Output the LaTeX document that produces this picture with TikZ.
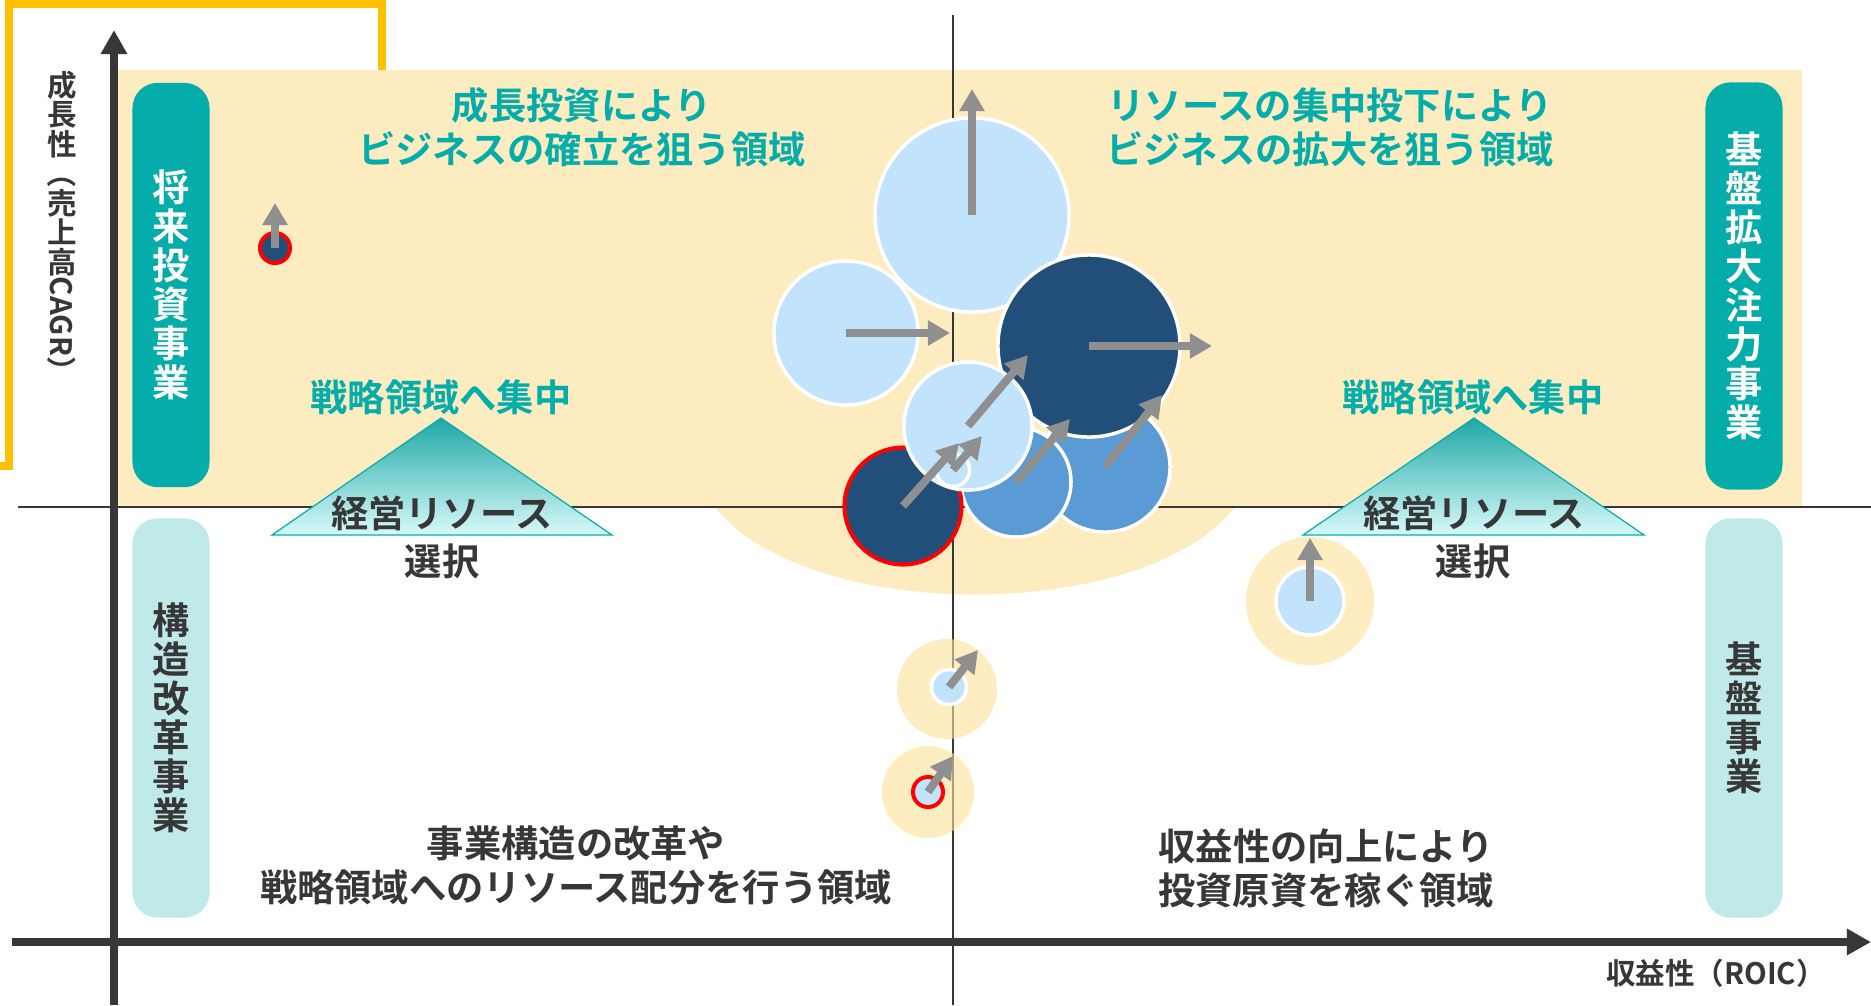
\documentclass[tikz,border=0pt]{standalone}
\usepackage{fontspec}
\newfontfamily\jpb{Noto Sans CJK JP Bold}
\usetikzlibrary{arrows.meta}

\definecolor{fillyellow}{RGB}{253,236,192}
\definecolor{haloyellow}{RGB}{253,225,152}
\definecolor{framegold}{RGB}{255,192,0}
\definecolor{tealdark}{RGB}{4,173,170}
\definecolor{teallight}{RGB}{192,234,233}
\definecolor{inkgray}{RGB}{55,55,55}
\definecolor{navy}{RGB}{33,79,122}
\definecolor{skyblue}{RGB}{193,227,252}
\definecolor{midblue}{RGB}{91,155,213}
\definecolor{arrowgray}{RGB}{143,143,143}

\newcommand{\vc}[1]{\rotatebox[origin=c]{90}{\raisebox{0pt}[0.88em][0.12em]{#1}}}

\tikzset{
  bigtxt/.style={font=\jpb\fontsize{10.6}{12.5}\selectfont, align=center, inner sep=0},
  axlabel/.style={font=\jpb\fontsize{8.4}{10}\selectfont, text=inkgray, inner sep=0},
  vbox/.style={rounded corners=0.25cm, minimum width=0.77cm, inner sep=0, align=center,
    font=\jpb\fontsize{10.6}{11.1}\selectfont},
  bub/.style={circle, draw=white, line width=0.035cm, inner sep=0},
  halo/.style={circle, fill=haloyellow, fill opacity=0.6, inner sep=0},
  growth/.style={draw=arrowgray, line width=0.08cm, -{Triangle[length=0.22cm,width=0.24cm]}},
  axis/.style={draw=inkgray, line width=0.08cm, -{Triangle[length=0.24cm,width=0.25cm]}},
  divider/.style={draw=inkgray, line width=0.022cm},
  pyramid/.style={draw=tealdark, line width=0.012cm,
    top color={rgb,255:red,30;green,168;blue,166},
    middle color={rgb,255:red,150;green,214;blue,214},
    bottom color={rgb,255:red,216;green,250;blue,250}}
}

\begin{document}
\begin{tikzpicture}[x=0.01cm,y=-0.01cm]
  \useasboundingbox (0,0) rectangle (1871,1005);

  % frame and backgrounds
  \draw[framegold, line width=0.08cm] (0,466) -- (9,466) -- (9,4) -- (382,4) -- (382,75);
  \fill[fillyellow] (712,503) .. controls (800,625) and (1150,625) .. (1238,503) -- cycle;
  \fill[fillyellow] (118,70) rectangle (1802,507);

  % quadrant lines and axes
  \draw[divider] (18,507) -- (1871,507);
  \draw[divider] (953,15) -- (953,1005);
  \draw[axis] (114,1005) -- (114,30);
  \draw[axis] (12,942) -- (1871,942);
  \node[axlabel, rotate=-90] (ylab) at (62,228) {\vc{成}\vc{長}\vc{性}（\vc{売}\vc{上}\vc{高}CAGR）};
  \node[axlabel] (xlab) at (1716,973) {収益性（ROIC）};

  % business categories
  \node[vbox, fill=tealdark, text=white, minimum height=4.04cm] (futbox) at (171,285) {将\\来\\投\\資\\事\\業};
  \node[vbox, fill=teallight, text=inkgray, minimum height=3.99cm] (refbox) at (171,718) {構\\造\\改\\革\\事\\業};
  \node[vbox, fill=tealdark, text=white, minimum height=4.07cm] (expbox) at (1744,286) {基\\盤\\拡\\大\\注\\力\\事\\業};
  \node[vbox, fill=teallight, text=inkgray, minimum height=3.99cm] (basebox) at (1744,718) {基\\盤\\事\\業};

  % quadrant texts
  \node[bigtxt, text=tealdark] (qtl) at (582,127) {成長投資により\\ビジネスの確立を狙う領域};
  \node[bigtxt, text=tealdark] (qtr) at (1330,127) {リソースの集中投下により\\ビジネスの拡大を狙う領域};
  \node[bigtxt, text=inkgray] (qbl) at (576,865) {事業構造の改革や\\戦略領域へのリソース配分を行う領域};
  \node[bigtxt, text=inkgray] (qbr) at (1326,868) {収益性の向上により\\投資原資を稼ぐ領域};

  % resource pyramids
  \shade[pyramid] (441,418) -- (612,535) -- (272,535) -- cycle;
  \shade[pyramid] (1474,418) -- (1644,535) -- (1303,535) -- cycle;
  \node[bigtxt, text=tealdark] (focL) at (441,397) {戦略領域へ集中};
  \node[bigtxt, text=tealdark] (focR) at (1473,397) {戦略領域へ集中};
  \node[bigtxt, text=inkgray] (resL) at (442,513) {経営リソース};
  \node[bigtxt, text=inkgray] (resR) at (1474,513) {経営リソース};
  \node[bigtxt, text=inkgray] (selL) at (442,561) {選択};
  \node[bigtxt, text=inkgray] (selR) at (1473,561) {選択};

  % halos
  \node[halo, minimum size=1.28cm] (hR) at (1310,601) {};
  \node[halo, minimum size=1.00cm] (hU) at (947,689) {};
  \node[halo, minimum size=0.92cm] (hD) at (928,792) {};

  % bubbles
  \node[bub, fill=midblue, minimum size=1.30cm] (bE) at (1105,467) {};
  \node[bub, fill=midblue, minimum size=1.10cm] (bF) at (1016,482) {};
  \node[bub, fill=skyblue, minimum size=1.94cm] (bA) at (972,215) {};
  \node[bub, fill=skyblue, minimum size=1.44cm] (bB) at (846,333) {};
  \node[bub, fill=navy, minimum size=1.82cm] (bC) at (1089,346) {};
  \node[bub, fill=navy, draw=red, line width=0.04cm, minimum size=1.17cm] (bG) at (903,506) {};
  \node[bub, fill=skyblue, minimum size=1.28cm] (bD) at (968,426) {};
  \node[bub, fill=skyblue, minimum size=0.33cm] (bH) at (953,470) {};
  \node[bub, fill=navy, draw=red, line width=0.04cm, minimum size=0.30cm] (bL) at (275,248) {};
  \node[bub, fill=skyblue, minimum size=0.68cm] (bR) at (1310,601) {};
  \node[bub, fill=skyblue, minimum size=0.35cm] (bU) at (949,687) {};
  \node[bub, fill=skyblue, draw=red, line width=0.04cm, minimum size=0.30cm] (bV) at (928,792) {};

  % growth directions
  \coordinate (tA) at (972,89);
  \coordinate (tB) at (950,333);
  \coordinate (tC) at (1212,346);
  \coordinate (tD) at (1028,355);
  \coordinate (tE) at (1162,395);
  \coordinate (tF) at (1070,419);
  \coordinate (tG) at (959,443);
  \coordinate (tH) at (982,436);
  \coordinate (tL) at (275,203);
  \coordinate (tR) at (1310,538);
  \coordinate (tU) at (978,650);
  \coordinate (tV) at (953,756);
  \foreach \b in {A,B,C,D,E,F,G,H,L,R,U,V}
    \draw[growth] (b\b.center) -- (t\b);
\end{tikzpicture}
\end{document}
